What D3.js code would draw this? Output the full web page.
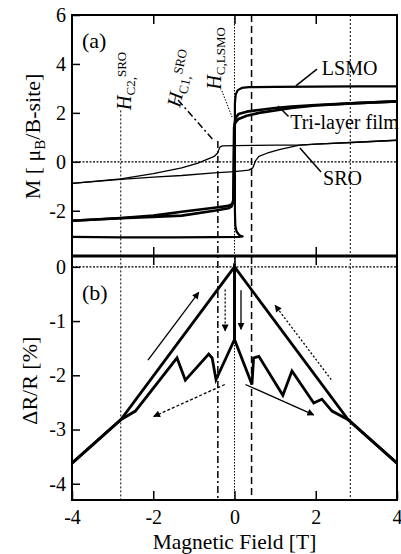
<!DOCTYPE html>
<html>
<head>
<meta charset="utf-8">
<script src="https://cdn.jsdelivr.net/npm/d3@7"></script>
<style>
body { margin: 0; background: #fff; }
svg, svg text { font-family: "Liberation Serif", "Times New Roman", Times, "DejaVu Serif", serif; }
</style>
</head>
<body>
<svg id="chart" width="401" height="554"></svg>
<script>
// tick values
var fieldTicks = [-4, -2, 0, 2, 4];
var mTicks = [-2, 0, 2, 4, 6];
var mrTicks = [-4, -3, -2, -1, 0];

// (a) magnetisation loops, field [T] vs M [muB/B-site]
var lsmoH = [-4, -2.8, -1.5, -0.5, 0.1, 0.2, 0.12, 0.05, 0.02, 0.01, 0.01, 0.03, 0.08, 0.18, 0.35, 1, 2, 3, 4];
var lsmoM = [-3.07, -3.09, -3.09, -3.08, -3.07, -3.05, -3.0, -2.85, -2.6, -2.0, 2.4, 2.75, 2.93, 3.02, 3.05, 3.06, 3.07, 3.08, 3.08];

var triAH = [-4, -2.8, -2, -1.3, -0.5, -0.15, -0.05, -0.02, 0.0, 0.03, 0.1, 0.3, 0.6, 1, 1.4, 2, 3, 4];
var triAM = [-2.41, -2.3, -2.2, -2.04, -1.88, -1.8, -1.72, -1.5, 1.5, 1.8, 1.95, 2.05, 2.12, 2.2, 2.26, 2.32, 2.4, 2.47];
var triBH = [-4, -2.8, -2, -1.3, -0.5, -0.15, -0.07, -0.03, -0.01, 0.02, 0.1, 0.3, 0.6, 1, 1.4, 2, 3, 4];
var triBM = [-2.41, -2.31, -2.25, -2.2, -2.0, -1.9, -1.82, -1.6, 1.4, 1.6, 1.75, 1.88, 2.0, 2.1, 2.2, 2.3, 2.4, 2.47];

var sroDH = [4, 3, 2, 1.6, 1, 0.5, 0, -0.3, -0.36, -0.42, -0.5, -0.6, -0.9, -1.3, -2, -2.8, -4];
var sroDM = [0.88, 0.8, 0.72, 0.68, 0.68, 0.67, 0.66, 0.65, 0.6, 0.35, 0.22, 0.15, -0.05, -0.25, -0.48, -0.7, -0.88];
var sroIH = [-4, -2.8, -2, -1.3, -0.5, 0, 0.35, 0.45, 0.52, 0.6, 0.8, 1.1, 1.6, 2, 3, 4];
var sroIM = [-0.88, -0.72, -0.63, -0.56, -0.45, -0.4, -0.34, -0.25, 0.05, 0.22, 0.35, 0.5, 0.68, 0.72, 0.8, 0.88];

// (b) magnetoresistance, field [T] vs dR/R [%]
var mrDownH = [4, 2.8, 0, 0, -0.455, -0.55, -0.635, -1.21, -1.415, -2.44, -2.8, -4];
var mrDownR = [-3.62, -2.82, 0, -1.34, -2.08, -1.68, -1.61, -2.09, -1.68, -2.66, -2.82, -3.62];
var mrUpH = [-4, -2.8, 0, 0, 0.43, 0.47, 0.6, 1.19, 1.415, 1.95, 2.15, 2.4, 2.8, 4];
var mrUpR = [-3.62, -2.82, 0, -1.34, -2.17, -1.68, -1.65, -2.37, -1.92, -2.51, -2.44, -2.66, -2.82, -3.62];

// sweep arrows in (b): from [H, dR/R] to [H, dR/R]
var arrowFrom = [[-2.13, -1.72], [-0.23, -0.42], [0.16, -0.43], [2.38, -2.08], [-0.24, -2.17], [0.27, -2.17]];
var arrowTo = [[-0.88, -0.47], [-0.23, -1.18], [0.16, -1.15], [1.0, -0.71], [-1.99, -2.76], [1.95, -2.73]];
var arrowKind = ["solid", "dotted", "solid", "dotted", "dashed", "solid"];

// coercive-field markers (field values)
var markH = [-2.8, -0.41, 0, 0.42, 2.85];
var markKind = ["dotted", "dashdot", "fine", "dashed", "dotted"];
var markTopM = [2.1, 0.85, 6, 6, 6];   // where each marker starts in panel (a)

var FONT = "'Liberation Serif', 'Times New Roman', Times, 'DejaVu Serif', serif";

var svg = d3.select("#chart").attr("font-family", FONT);
var L = 72, R = 397, T = 15, MID = 256, B = 500;

var x = d3.scaleLinear().domain([-4, 4]).range([L, R]);
var yA = d3.scaleLinear().domain([-3.85, 6]).range([MID, T]);
var yB = d3.scaleLinear().domain([-4.3, 0.2]).range([B, MID]);

var dashes = { dotted: "2,2", dashdot: "7,3,2,3", dashed: "7,4", fine: "1.5,1.5", solid: null };

svg.append("clipPath").attr("id", "clipA").append("rect")
	.attr("x", L).attr("y", T).attr("width", R - L).attr("height", MID - T);
svg.append("clipPath").attr("id", "clipB").append("rect")
	.attr("x", L).attr("y", MID).attr("width", R - L).attr("height", B - MID);

// arrow heads
var defs = svg.append("defs");
defs.append("marker").attr("id", "head")
	.attr("viewBox", "0 0 10 10").attr("refX", 9).attr("refY", 5)
	.attr("markerWidth", 11).attr("markerHeight", 7)
	.attr("markerUnits", "userSpaceOnUse").attr("orient", "auto")
	.append("path").attr("d", "M0,0L10,5L0,10z").attr("fill", "#000");

// zero lines
svg.append("line").attr("x1", L).attr("x2", R).attr("y1", yA(0)).attr("y2", yA(0))
	.attr("stroke", "#000").attr("stroke-width", 1.2).attr("stroke-dasharray", "2,1.5");
svg.append("line").attr("x1", L).attr("x2", R).attr("y1", yB(0)).attr("y2", yB(0))
	.attr("stroke", "#000").attr("stroke-width", 1.2).attr("stroke-dasharray", "2,1.5");

// vertical marker lines through both panels
markH.forEach(function(h, i) {
	var k = markKind[i];
	svg.append("line")
		.attr("x1", x(h)).attr("x2", x(h))
		.attr("y1", yA(markTopM[i])).attr("y2", B)
		.attr("stroke", "#000")
		.attr("stroke-width", k == "dotted" || k == "fine" ? 1 : 1.5)
		.attr("stroke-dasharray", dashes[k]);
});

var lineA = d3.line().x(function(d) { return x(d[0]); }).y(function(d) { return yA(d[1]); });
var lineB = d3.line().x(function(d) { return x(d[0]); }).y(function(d) { return yB(d[1]); });

var gA = svg.append("g").attr("clip-path", "url(#clipA)");
var gB = svg.append("g").attr("clip-path", "url(#clipB)");

function curveA(hs, ms, w) {
	gA.append("path").datum(d3.zip(hs, ms)).attr("d", lineA)
		.attr("fill", "none").attr("stroke", "#000").attr("stroke-width", w)
		.attr("stroke-linejoin", "round");
}
curveA(sroDH, sroDM, 1.3);
curveA(sroIH, sroIM, 1.3);
curveA(lsmoH, lsmoM, 2.2);
curveA(triAH, triAM, 2.6);
curveA(triBH, triBM, 2.6);

function curveB(hs, rs) {
	gB.append("path").datum(d3.zip(hs, rs)).attr("d", lineB)
		.attr("fill", "none").attr("stroke", "#000").attr("stroke-width", 2.8)
		.attr("stroke-linejoin", "miter");
}
curveB(mrDownH, mrDownR);
curveB(mrUpH, mrUpR);

arrowFrom.forEach(function(f, i) {
	var t = arrowTo[i];
	svg.append("line")
		.attr("x1", x(f[0])).attr("y1", yB(f[1]))
		.attr("x2", x(t[0])).attr("y2", yB(t[1]))
		.attr("stroke", "#000").attr("stroke-width", 1.3)
		.attr("stroke-dasharray", arrowKind[i] == "dotted" ? "2,2" : (arrowKind[i] == "dashed" ? "3,2" : null))
		.attr("marker-end", "url(#head)");
});

// frames
svg.append("rect").attr("x", L).attr("y", T).attr("width", R - L).attr("height", B - T)
	.attr("fill", "none").attr("stroke", "#000").attr("stroke-width", 2);
svg.append("line").attr("x1", L).attr("x2", R).attr("y1", MID).attr("y2", MID)
	.attr("stroke", "#000").attr("stroke-width", 3.2);

// axes, ticks inward
function styleAxis(g) {
	g.attr("font-family", FONT).attr("font-size", 20);
	g.select(".domain").remove();
	g.selectAll(".tick line").attr("stroke-width", 1.5);
}
svg.append("g").attr("transform", "translate(" + L + ",0)")
	.call(d3.axisLeft(yA).tickValues(mTicks).tickSize(-8).tickPadding(6).tickFormat(String))
	.call(styleAxis);
svg.append("g").attr("transform", "translate(" + L + ",0)")
	.call(d3.axisLeft(yB).tickValues(mrTicks).tickSize(-8).tickPadding(6).tickFormat(String))
	.call(styleAxis);
svg.append("g").attr("transform", "translate(0," + B + ")")
	.call(d3.axisBottom(x).tickValues(fieldTicks).tickSize(-9).tickPadding(10).tickFormat(String))
	.call(styleAxis);
[T, MID].forEach(function(yy) {
	svg.append("g").attr("transform", "translate(0," + yy + ")")
		.call(d3.axisBottom(x).tickValues([-2, 0, 2]).tickSize(9).tickFormat(""))
		.call(styleAxis);
});
svg.append("g").attr("transform", "translate(0," + MID + ")")
	.call(d3.axisBottom(x).tickValues([-2, 2]).tickSize(-9).tickFormat(""))
	.call(styleAxis);

// axis titles
var tA = svg.append("text").attr("transform", "translate(40," + ((T + MID) / 2 + 1) + ") rotate(-90)")
	.attr("text-anchor", "middle").attr("font-size", 22);
tA.append("tspan").text("M [ \u03bc");
tA.append("tspan").attr("font-size", 15).attr("dy", 5).text("B");
tA.append("tspan").attr("dy", -5).text("/B-site]");

svg.append("text").attr("transform", "translate(37," + yB(-2.1) + ") rotate(-90)")
	.attr("text-anchor", "middle").attr("font-size", 22).text("\u0394R/R [%]");

svg.append("text").attr("x", x(0)).attr("y", 548.5)
	.attr("text-anchor", "middle").attr("font-size", 21.5).text("Magnetic Field [T]");

// panel tags
svg.append("text").attr("x", L + 10).attr("y", T + 33).attr("font-size", 22).text("(a)");
svg.append("text").attr("x", L + 10).attr("y", MID + 44).attr("font-size", 22).text("(b)");

// curve labels with leaders
function leader(h1, m1, h2, m2, dash, w) {
	svg.append("line").attr("x1", x(h1)).attr("y1", yA(m1)).attr("x2", x(h2)).attr("y2", yA(m2))
		.attr("stroke", "#000").attr("stroke-width", w || 1.5).attr("stroke-dasharray", dash);
}
svg.append("text").attr("x", x(2.15)).attr("y", yA(3.55)).attr("font-size", 20).text("LSMO");
leader(2.03, 3.79, 1.51, 3.1);
svg.append("text").attr("x", x(1.37)).attr("y", yA(1.34)).attr("font-size", 20).text("Tri-layer film");
leader(1.33, 1.85, 1.07, 2.28);
svg.append("text").attr("x", x(2.18)).attr("y", yA(-0.95)).attr("font-size", 20).text("SRO");
leader(2.13, -0.42, 1.61, 0.56);
leader(-0.31, 2.9, -0.06, 1.83, "1.5,1.5", 1);
leader(-1.39, 2.53, -0.5, 0.85, "7,3,2,3", 1.5);

function hLabel(h, m, angle, sub, sup) {
	var t = svg.append("text")
		.attr("transform", "translate(" + x(h) + "," + yA(m) + ") rotate(" + angle + ")")
		.attr("font-size", 20);
	t.append("tspan").attr("font-style", "italic").text("H");
	t.append("tspan").attr("font-size", 13).attr("dy", 4).text(sub);
	if (sup) t.append("tspan").attr("font-size", 13).attr("dy", -9).text(sup);
}
hLabel(-2.55, 2.12, -90, "C2,", "SRO");
hLabel(-1.34, 2.2, -78, "C1,", "SRO");
hLabel(-0.33, 2.95, -90, "C,LSMO");
</script>
</body>
</html>
